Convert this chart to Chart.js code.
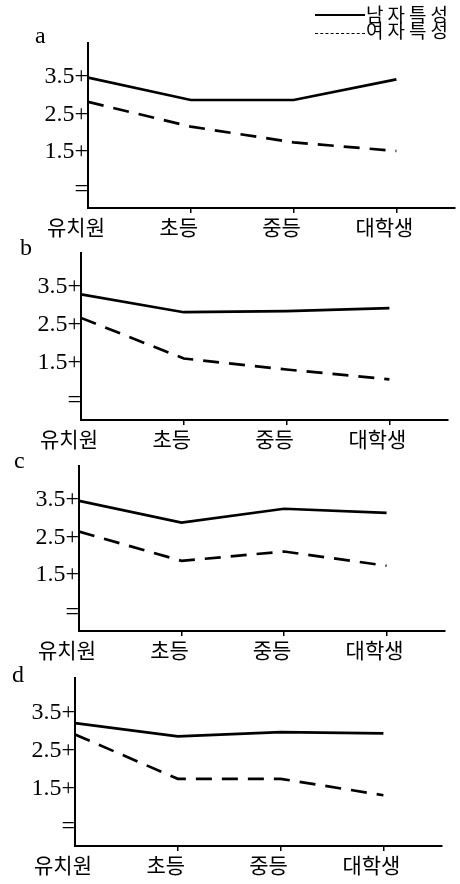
<!DOCTYPE html>
<html><head><meta charset="utf-8">
<script src="https://cdn.jsdelivr.net/npm/chart.js@4.4.0/dist/chart.umd.min.js"></script>
<style>
html,body{margin:0;padding:0;background:#fff;width:460px;height:884px;overflow:hidden;position:relative}
canvas{position:absolute;left:0}
.lbl{position:absolute;font-family:'Liberation Serif',serif;font-size:24px;line-height:24px;color:#000;z-index:5}
.leg{position:absolute;font-family:'Noto Sans CJK KR',sans-serif;font-size:19px;line-height:19px;letter-spacing:4px;white-space:nowrap;color:#000;z-index:5}
.ln{position:absolute;height:0;width:50px;z-index:5}
</style></head><body>
<div class="ln" style="left:315px;top:14px;border-top:2px solid #000"></div>
<div class="ln" style="left:315px;top:33px;border-top:1px dashed #000"></div>
<div class="leg" id="leg0" style="left:366px;top:4px"></div>
<div class="leg" id="leg1" style="left:366px;top:20px"></div>
<script>
// ---- data ----
const categories = ['유치원', '초등', '중등', '대학생'];
const seriesNames = ['남자특성', '여자특성'];
const yTickValues = [0.5, 1.5, 2.5, 3.5];
const yTickLabels = ['=', '1.5+', '2.5+', '3.5+'];
const panelLetters = ['a', 'b', 'c', 'd'];

const maleA   = [3.48, 2.88, 2.88, 3.43];
const femaleA = [2.83, 2.17, 1.75, 1.52];
const maleB   = [3.31, 2.84, 2.87, 2.95];
const femaleB = [2.69, 1.62, 1.33, 1.07];
const maleC   = [3.47, 2.89, 3.26, 3.15];
const femaleC = [2.65, 1.87, 2.12, 1.74];
const maleD   = [3.22, 2.87, 2.98, 2.95];
const femaleD = [2.92, 1.76, 1.76, 1.33];

// ---- layout (pixels) ----
const CH = 250;
const panels = [
  {male: maleA, female: femaleA, top: 0,   yw: 88, padTop: 43, padRight: 5,  bottom: 208, lx: 35, lb: 43},
  {male: maleB, female: femaleB, top: 212, yw: 81, padTop: 41, padRight: 12, bottom: 420, lx: 20, lb: 255},
  {male: maleC, female: femaleC, top: 425, yw: 79, padTop: 41, padRight: 15, bottom: 631, lx: 14, lb: 468},
  {male: maleD, female: femaleD, top: 637, yw: 75, padTop: 41, padRight: 18, bottom: 846, lx: 12, lb: 682}
];

document.getElementById('leg0').textContent = seriesNames[0];
document.getElementById('leg1').textContent = seriesNames[1];

panels.forEach((p, k) => {
  const c = document.createElement('canvas');
  c.width = 460; c.height = CH;
  c.style.top = p.top + 'px';
  c.style.width = '460px'; c.style.height = CH + 'px';
  document.body.appendChild(c);

  const lab = document.createElement('div');
  lab.className = 'lbl';
  lab.textContent = panelLetters[k];
  lab.style.left = p.lx + 'px';
  lab.style.top = (p.lb - 20) + 'px';
  document.body.appendChild(lab);

  const xh = p.top + CH - p.bottom;
  new Chart(c, {
    type: 'line',
    data: {
      datasets: [
        {label: seriesNames[0], data: p.male.map((v, i) => ({x: i, y: v})),
         borderColor: '#000', borderWidth: 2.7, pointRadius: 0, tension: 0, fill: false},
        {label: seriesNames[1], data: p.female.map((v, i) => ({x: i, y: v})),
         borderColor: '#000', borderWidth: 2.7, borderDash: [16, 10], pointRadius: 0, tension: 0, fill: false}
      ]
    },
    options: {
      responsive: false, animation: false, events: [],
      layout: {padding: {top: p.padTop, right: p.padRight, left: 0, bottom: 0}},
      plugins: {legend: {display: false}, tooltip: {enabled: false}, title: {display: false}},
      scales: {
        x: {
          type: 'linear', min: 0, max: 3.57,
          afterBuildTicks: s => { s.ticks = categories.map((c, i) => ({value: i})); },
          afterFit: s => { s.height = xh; },
          ticks: {
            callback: v => categories[v] ?? '',
            font: {family: "'Noto Sans CJK KR'", size: 21}, color: '#000',
            padding: 1, labelOffset: -12, maxRotation: 0, autoSkip: false
          },
          grid: {display: true, drawOnChartArea: false, drawTicks: true, tickLength: 5,
                 color: ctx => (ctx.tick && ctx.tick.value === 0) ? 'rgba(0,0,0,0)' : '#000', lineWidth: 1.5},
          border: {display: true, color: '#000', width: 2}
        },
        y: {
          type: 'linear', min: 0, max: 4.4,
          afterBuildTicks: s => { s.ticks = yTickValues.map(v => ({value: v})); },
          afterFit: s => { s.width = p.yw; },
          ticks: {
            callback: v => yTickLabels[yTickValues.indexOf(v)],
            font: {family: "'Liberation Serif'", size: 24}, color: '#000', padding: 0
          },
          grid: {display: false, drawTicks: false},
          border: {display: true, color: '#000', width: 2}
        }
      }
    }
  });
});
</script>
</body></html>
